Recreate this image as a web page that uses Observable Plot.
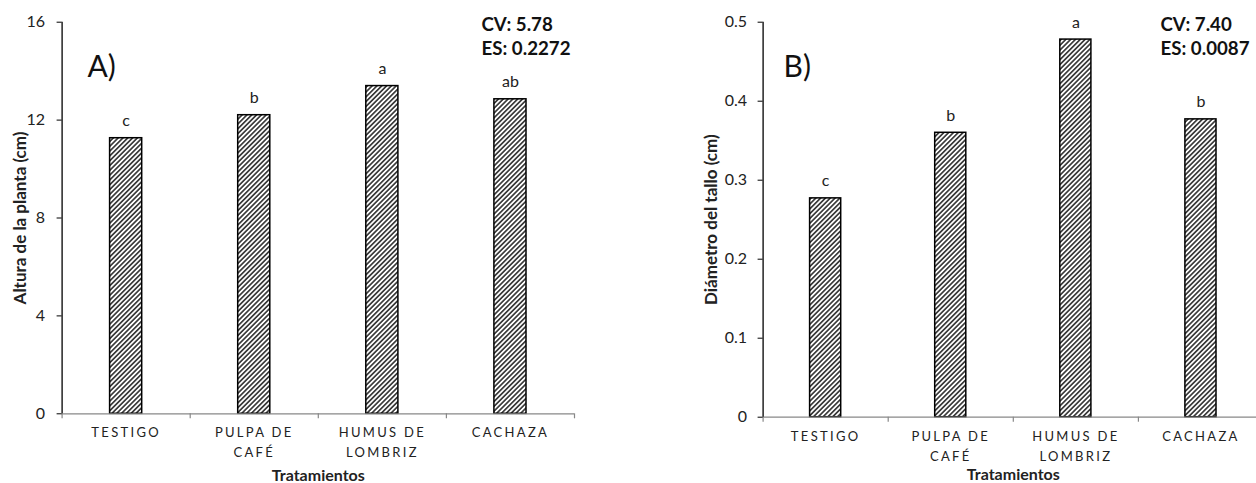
<!DOCTYPE html>
<html>
<head>
<meta charset="utf-8">
<script src="https://cdn.jsdelivr.net/npm/d3@7"></script>
<script src="https://cdn.jsdelivr.net/npm/@observablehq/plot@0.6"></script>
<style>
  html, body { margin: 0; padding: 0; background: #fff; overflow: hidden; }
  #wrap { position: relative; width: 1256px; height: 483px; overflow: hidden; background: #fff; }
  #wrap > svg { position: absolute; top: 0; }
  .cat text { letter-spacing: 2.3px; }
</style>
</head>
<body>
<svg width="0" height="0" style="position:absolute">
  <defs>
    <pattern id="hatch" patternUnits="userSpaceOnUse" width="3.4" height="3.4" patternTransform="rotate(45)">
      <rect width="3.4" height="3.4" fill="#ffffff"></rect>
      <rect x="0" y="0" width="1.7" height="3.4" fill="#3c3c3c"></rect>
    </pattern>
  </defs>
</svg>
<div id="wrap"></div>
<script>
// ---- data ----
const categories = ["TESTIGO", "PULPA DE\nCAFÉ", "HUMUS DE\nLOMBRIZ", "CACHAZA"];
const alturaValues = [11.26, 12.2, 13.39, 12.85];
const alturaLetters = ["c", "b", "a", "ab"];
const alturaTicks = [0, 4, 8, 12, 16];
const alturaStats = ["CV: 5.78", "ES: 0.2272"];

const diametroValues = [0.277, 0.36, 0.478, 0.377];
const diametroLetters = ["c", "b", "a", "b"];
const diametroTicks = [0, 0.1, 0.2, 0.3, 0.4, 0.5];
const diametroStats = ["CV: 7.40", "ES: 0.0087"];

const font = "Lato, 'Open Sans', sans-serif";

function panel(o) {
  const rows = categories.map((c, i) => ({cat: c, i, v: o.values[i], letter: o.letters[i]}));
  const yMax = o.ticks[o.ticks.length - 1];
  const chart = Plot.plot({
    width: o.width,
    height: 483,
    marginLeft: o.marginLeft,
    marginRight: o.marginRight,
    marginTop: o.marginTop,
    marginBottom: o.marginBottom,
    style: {fontFamily: font, color: "#222", background: "transparent", overflow: "visible"},
    x: {type: "linear", domain: [0, categories.length], axis: null},
    y: {domain: [0, yMax], axis: null},
    marks: [
      Plot.rectY(rows, {
        x1: d => d.i, x2: d => d.i + 1, y1: 0, y2: "v",
        insetLeft: o.inset, insetRight: o.inset,
        fill: "url(#hatch)", stroke: "#000", strokeWidth: 1.5
      }),
      Plot.ruleY([0], {stroke: "#888", strokeWidth: 1.2}),
      Plot.axisX({ticks: d3.range(categories.length + 1), tickFormat: () => "", tickSize: 5, stroke: "#888", strokeWidth: 1.2}),
      Plot.ruleX([0], {stroke: "#000", strokeWidth: 1.3}),
      Plot.axisY({ticks: o.ticks, tickFormat: d => String(d), tickSize: 5, tickPadding: o.tickPadding, fontSize: 16, stroke: "#000", fill: "#222", label: null}),
      Plot.text(rows, {x: d => d.i + 0.5, y: "v", text: "letter", dy: -17, fontSize: 16, lineAnchor: "middle", fill: "#222"}),
      Plot.text(rows, {x: d => d.i + 0.5, text: "cat", frameAnchor: "bottom", lineAnchor: "top", dy: o.catDy, fontSize: 13, lineHeight: 20 / 13, fill: "#222", className: "cat"}),
      Plot.text(["Tratamientos"], {frameAnchor: "bottom", dy: o.titleDy, lineAnchor: "middle", fontSize: 16, fontWeight: "bold", fill: "#222"}),
      Plot.text([o.ylabel], {frameAnchor: "left", dx: o.ylabelDx, rotate: -90, textAnchor: "middle", lineAnchor: "middle", fontSize: 17, fontWeight: "bold", fill: "#222"}),
      Plot.text([o.panelLabel], {frameAnchor: "top-left", dx: o.panelDx, dy: 45, textAnchor: "start", lineAnchor: "middle", fontSize: 30, fill: "#111"}),
      Plot.text([o.stats.join("\n")], {frameAnchor: "top-left", dx: o.statsDx, dy: 13.5, textAnchor: "start", lineAnchor: "middle", fontSize: 18.7, fontWeight: "bold", lineHeight: 24 / 18.7, fill: "#111"})
    ]
  });
  chart.style.left = o.left + "px";
  return chart;
}

const wrap = document.getElementById("wrap");
wrap.appendChild(panel({
  values: alturaValues, letters: alturaLetters, ticks: alturaTicks, stats: alturaStats,
  ylabel: "Altura de la planta (cm)", panelLabel: "A)",
  left: 0, width: 628, marginLeft: 61.6, marginRight: 54, marginTop: 21.7, marginBottom: 69.7,
  inset: 48, tickPadding: 12, catDy: 9.2, titleDy: 62.5, ylabelDx: -41.6, panelDx: 25.4, statsDx: 419.4
}));
wrap.appendChild(panel({
  values: diametroValues, letters: diametroLetters, ticks: diametroTicks, stats: diametroStats,
  ylabel: "Diámetro del tallo (cm)", panelLabel: "B)",
  left: 628, width: 635, marginLeft: 134.6, marginRight: 0, marginTop: 21.7, marginBottom: 66.3,
  inset: 47, tickPadding: 11, catDy: 9.5, titleDy: 57.5, ylabelDx: -51.6, panelDx: 20.4, statsDx: 397.4
}));
</script>
</body>
</html>
